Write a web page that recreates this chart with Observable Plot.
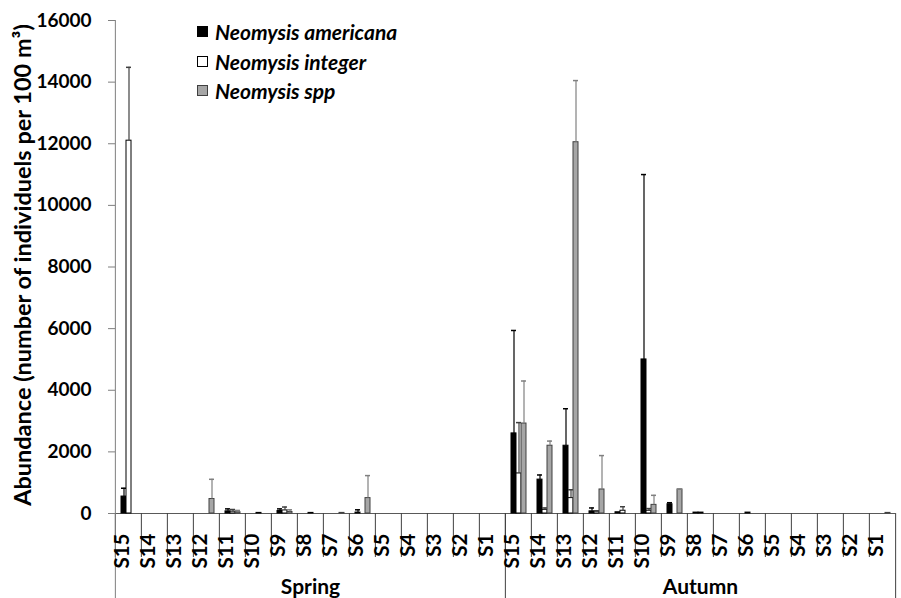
<!DOCTYPE html>
<html><head><meta charset="utf-8">
<script src="https://cdn.jsdelivr.net/npm/d3@7"></script>
<script src="https://cdn.jsdelivr.net/npm/@observablehq/plot@0.6"></script>
<style>
body{margin:0;background:#fff;}
#wrap{position:relative;width:901px;height:598px;}
#legend{position:absolute;left:197px;top:17px;font-family:Lato,"DejaVu Sans",sans-serif;font-weight:bold;font-style:italic;font-size:21px;color:#000;z-index:2;}
.row{display:flex;align-items:center;height:29.5px;}
.sw{width:9px;height:9px;border:1px solid #000;margin-right:7px;}
</style></head><body><div id="wrap"><div id="legend"></div></div>
<script>
// ---- data ----
const stations = ["S15","S14","S13","S12","S11","S10","S9","S8","S7","S6","S5","S4","S3","S2","S1"];
const seasons = ["Spring","Autumn"];
const series = ["Neomysis americana","Neomysis integer","Neomysis spp"];

// mean abundance per station (S15 ... S1)
const springAmericana = [550,0,0,0,70,0,80,0,0,30,0,0,0,0,0];
const springInteger   = [12100,0,0,0,60,20,100,20,0,0,0,0,0,0,0];
const springSpp       = [0,0,0,470,40,0,50,0,20,500,0,0,0,0,0];
const autumnAmericana = [2600,1100,2200,70,40,5000,300,30,0,30,0,0,0,0,0];
const autumnInteger   = [1300,120,500,60,90,90,0,30,0,0,0,0,0,0,0];
const autumnSpp       = [2920,2200,12050,780,0,280,780,0,0,0,0,0,0,0,20];

// upper error (standard deviation)
const springAmericanaErr = [270,0,0,0,80,0,70,0,0,90,0,0,0,0,0];
const springIntegerErr   = [2380,0,0,0,70,0,110,0,0,0,0,0,0,0,0];
const springSppErr       = [0,0,0,640,60,0,70,0,0,730,0,0,0,0,0];
const autumnAmericanaErr = [3340,150,1200,110,0,6000,50,0,0,0,0,0,0,0,0];
const autumnIntegerErr   = [1650,60,270,30,130,70,0,0,0,0,0,0,0,0,0];
const autumnSppErr       = [1380,150,2000,1100,0,310,10,0,0,0,0,0,0,0,0];

const yTicks = [0,2000,4000,6000,8000,10000,12000,14000,16000];
const yLabel = "Abundance (number of individuels per 100 m³)";

// ---- styles ----
const fills = ["#000000","#ffffff","#a6a6a6"];
const outlines = ["#000000","#000000","#404040"];
const errColors = ["#000000","#404040","#808080"];

const W = 901, H = 598, ML = 111, MR = 2, MT = 20, MB = 85;
const step = (W - ML - MR) / (stations.length * seasons.length);

// ---- build table ----
const valueTable = {
  Spring: [springAmericana, springInteger, springSpp],
  Autumn: [autumnAmericana, autumnInteger, autumnSpp]
};
const errTable = {
  Spring: [springAmericanaErr, springIntegerErr, springSppErr],
  Autumn: [autumnAmericanaErr, autumnIntegerErr, autumnSppErr]
};
const key = (s, st) => s + "|" + st;
const keys = seasons.flatMap(s => stations.map(st => key(s, st)));
const rows = [];
seasons.forEach(s => stations.forEach((st, j) => series.forEach((sp, k) => {
  rows.push({season: s, station: st, key: key(s, st), series: sp, si: k,
             value: valueTable[s][k][j], err: errTable[s][k][j]});
})));
const cats = seasons.flatMap(s => stations.map(st => ({season: s, station: st, key: key(s, st)})));

const marks = [];
// baseline
marks.push(Plot.ruleY([0], {stroke: "#595959"}));
// bars + error bars per series
series.forEach((sp, k) => {
  const data = rows.filter(d => d.si === k && d.value > 0);
  marks.push(Plot.barY(data, {fx: "key", x: "series", y: "value", fill: fills[k], stroke: outlines[k], strokeWidth: 1}));
  const ed = rows.filter(d => d.si === k && d.err > 0);
  marks.push(Plot.ruleX(ed, {fx: "key", x: "series", y1: "value", y2: d => d.value + d.err, stroke: errColors[k], strokeWidth: 1.2}));
  marks.push(Plot.tickY(ed, {fx: "key", x: "series", y: d => d.value + d.err, stroke: errColors[k], strokeWidth: 1.5}));
});
// category separators below the axis
marks.push(Plot.ruleX(cats, {fx: "key", x: null, y1: 0, y2: 0, insetBottom: -44, dx: -step / 2, stroke: "#404040"}));
// group separators
marks.push(Plot.ruleX(cats.filter(c => c.station === stations[0] && c.season !== seasons[0]), {fx: "key", x: null, y1: 0, y2: 0, insetBottom: -MB, dx: -step / 2, stroke: "#404040"}));
marks.push(Plot.ruleX(cats.slice(-1), {fx: "key", x: null, y1: 0, y2: 0, insetBottom: -MB, dx: step / 2, stroke: "#404040"}));
// y axis line
marks.push(Plot.ruleX(cats.slice(0, 1), {fx: "key", x: null, insetBottom: -MB, dx: -step / 2, stroke: "#7f7f7f"}));
// station labels
marks.push(Plot.text(cats, {fx: "key", text: "station", frameAnchor: "bottom", rotate: -90, textAnchor: "end", dy: 20, fontSize: 20.5, fontWeight: "bold"}));
// season labels (centred on the middle station)
marks.push(Plot.text(seasons, {fx: s => key(s, stations[Math.floor(stations.length / 2)]), text: s => s, frameAnchor: "bottom", dy: 80, fontSize: 21, fontWeight: "bold"}));
// y axis ticks
marks.push(Plot.axisY(yTicks, {tickSize: 7, tickPadding: 17, stroke: "#7f7f7f", fill: "#000", tickFormat: d3.format("d"), fontSize: 19, fontWeight: "bold", label: null}));
// y axis title
marks.push(Plot.text([yLabel], {fx: () => keys[0], text: d => d, frameAnchor: "left", textAnchor: "middle", rotate: -90, dx: -92, dy: -2, fontSize: 23.5, fontWeight: "bold"}));

const chart = Plot.plot({
  width: W, height: H,
  marginLeft: ML, marginRight: MR, marginTop: MT, marginBottom: MB,
  style: {fontFamily: "Lato, 'DejaVu Sans', sans-serif", fontSize: "19px", color: "#000", background: "#fff", overflow: "visible"},
  fx: {domain: keys, padding: 0, axis: null, label: null},
  x: {domain: series, paddingInner: 0, paddingOuter: 0.9, axis: null},
  y: {domain: [0, 16000], axis: null},
  marks
});
document.getElementById("wrap").prepend(chart);

// legend
const lg = document.getElementById("legend");
series.forEach((sp, k) => {
  const r = document.createElement("div"); r.className = "row";
  const sw = document.createElement("span"); sw.className = "sw";
  sw.style.background = fills[k]; sw.style.borderColor = outlines[k];
  const t = document.createElement("span"); t.textContent = sp;
  r.append(sw, t); lg.append(r);
});
</script></body></html>
